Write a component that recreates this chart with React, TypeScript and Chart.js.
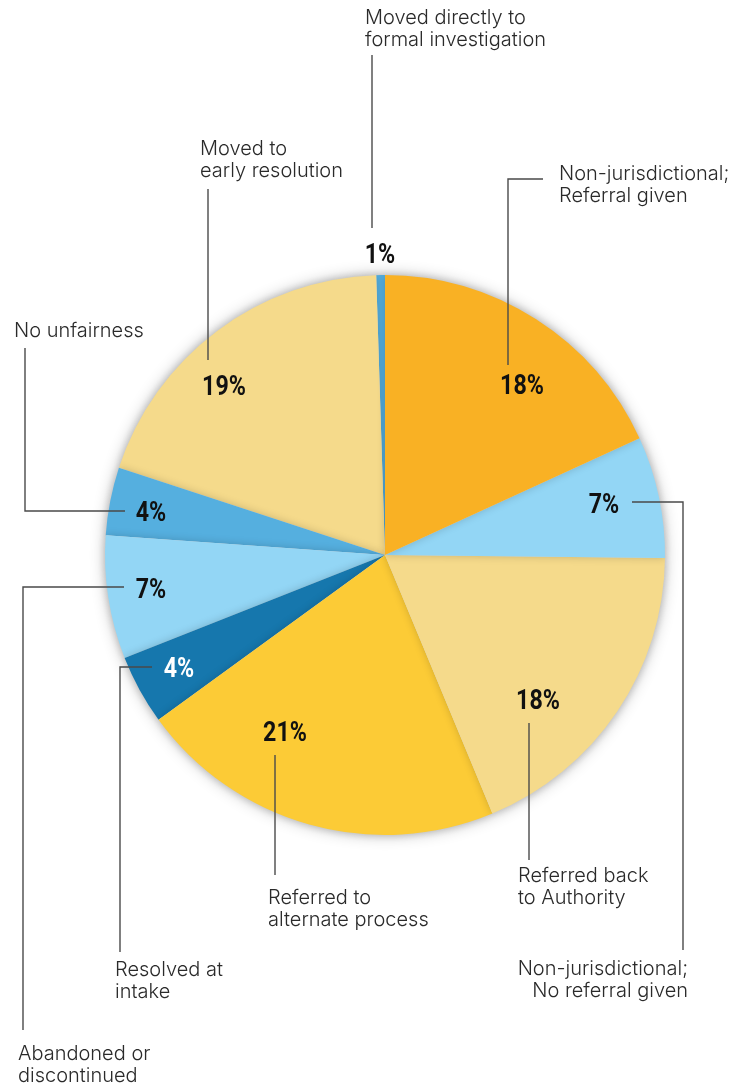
import React, { useEffect, useRef } from "react";
import { Chart, registerables } from "chart.js";

Chart.register(...registerables);

// ---- data ----
const categories: string[][] = [
  ["Non-jurisdictional;", "Referral given"],
  ["Non-jurisdictional;", "No referral given"],
  ["Referred back", "to Authority"],
  ["Referred to", "alternate process"],
  ["Resolved at", "intake"],
  ["Abandoned or", "discontinued"],
  ["No unfairness"],
  ["Moved to", "early resolution"],
  ["Moved directly to", "formal investigation"],
];
const shares = [18.1, 7.0, 18.5, 21.2, 4.0, 7.1, 3.9, 19.4, 0.5];
const percentLabels = ["18%", "7%", "18%", "21%", "4%", "7%", "4%", "19%", "1%"];
const sliceColors = [
  "#F9B124",
  "#93D6F5",
  "#F5DA8B",
  "#FCCB36",
  "#1677AD",
  "#93D6F5",
  "#55AFDF",
  "#F5DA8B",
  "#55AFDF",
];
const percentColors = ["#111", "#111", "#111", "#111", "#fff", "#111", "#111", "#111", "#111"];

// ---- annotation layout (offsets from pie centre, px) ----
type Ann = {
  pct: [number, number];
  text: [number, number];
  align: CanvasTextAlign;
  line: [number, number][];
};
const annotations: Ann[] = [
  { pct: [137, -161], text: [174, -375], align: "left", line: [[123, -190], [123, -376], [158, -376]] },
  { pct: [219, -42], text: [303, 420], align: "right", line: [[247, -53], [298, -53], [298, 395]] },
  { pct: [153, 154], text: [133, 327], align: "left", line: [[144, 168], [144, 305]] },
  { pct: [-100, 186], text: [-117, 349], align: "left", line: [[-110, 200], [-110, 320]] },
  { pct: [-206, 122], text: [-270, 421], align: "left", line: [[-233, 112], [-265, 112], [-265, 397]] },
  { pct: [-234, 43], text: [-367, 505], align: "left", line: [[-261, 32], [-362, 32], [-362, 475]] },
  { pct: [-234, -34], text: [-371, -218], align: "left", line: [[-260, -44], [-360, -44], [-360, -207]] },
  { pct: [-161, -160], text: [-185, -400], align: "left", line: [[-177, -195], [-177, -366]] },
  { pct: [-5, -292], text: [-20, -531], align: "left", line: [[-13, -327], [-13, -500]] },
];

const PCT_FONT = "bold 27px Roboto, 'Noto Sans', sans-serif";
const PCT_SCALE_X = 0.86;
const LABEL_FONT = "300 20px Inter, Roboto, sans-serif";
const LINE_H = 21.5;

const overlayPlugin = {
  id: "overlay",
  beforeDatasetDraw(chart: any, args: any) {
    const meta = args.meta;
    const ctx: CanvasRenderingContext2D = chart.ctx;
    const first = meta.data[0];
    ctx.save();
    ctx.shadowColor = "rgba(0,0,0,0.30)";
    ctx.shadowBlur = 16;
    ctx.fillStyle = "#ffffff";
    ctx.beginPath();
    ctx.arc(first.x, first.y, first.outerRadius - 1, 0, Math.PI * 2);
    ctx.fill();
    ctx.restore();
    ctx.save();
    ctx.shadowColor = "rgba(0,0,0,0.18)";
    ctx.shadowBlur = 8;
    for (let i = meta.data.length - 1; i >= 0; i--) {
      meta.data[i].draw(ctx, chart.chartArea);
    }
    ctx.restore();
    return false;
  },
  afterDatasetsDraw(chart: any) {
    const ctx: CanvasRenderingContext2D = chart.ctx;
    const meta = chart.getDatasetMeta(0);
    const cx = meta.data[0].x;
    const cy = meta.data[0].y;
    ctx.save();
    ctx.strokeStyle = "#4a4a4a";
    ctx.lineWidth = 1.4;
    annotations.forEach((a) => {
      ctx.beginPath();
      a.line.forEach(([dx, dy], k) => {
        if (k === 0) ctx.moveTo(cx + dx, cy + dy);
        else ctx.lineTo(cx + dx, cy + dy);
      });
      ctx.stroke();
    });
    ctx.font = PCT_FONT;
    ctx.textAlign = "center";
    ctx.textBaseline = "alphabetic";
    annotations.forEach((a, i) => {
      ctx.save();
      ctx.translate(cx + a.pct[0], cy + a.pct[1]);
      ctx.scale(PCT_SCALE_X, 1);
      ctx.fillStyle = percentColors[i];
      ctx.fillText(percentLabels[i], 0, 0);
      ctx.restore();
    });
    ctx.font = LABEL_FONT;
    ctx.fillStyle = "#2a2a2a";
    annotations.forEach((a, i) => {
      ctx.textAlign = a.align;
      categories[i].forEach((line, k) => {
        ctx.fillText(line, cx + a.text[0], cy + a.text[1] + k * LINE_H);
      });
    });
    ctx.restore();
  },
};

export default function App() {
  const canvasRef = useRef<HTMLCanvasElement | null>(null);

  useEffect(() => {
    if (!canvasRef.current) return;
    const chart = new Chart(canvasRef.current, {
      type: "pie",
      data: {
        labels: categories.map((c) => c.join(" ")),
        datasets: [
          {
            data: shares,
            backgroundColor: sliceColors,
            borderWidth: 0,
          },
        ],
      },
      options: {
        animation: false,
        responsive: true,
        maintainAspectRatio: false,
        layout: { padding: { left: 105, right: 79, top: 275, bottom: 250 } },
        plugins: {
          legend: { display: false },
          tooltip: { enabled: false },
        },
      },
      plugins: [overlayPlugin],
    });
    return () => chart.destroy();
  }, []);

  return (
    <div
      style={{
        position: "fixed",
        left: 0,
        top: 0,
        width: 744,
        height: 1085,
        background: "#ffffff",
      }}
    >
      <canvas ref={canvasRef} />
    </div>
  );
}
